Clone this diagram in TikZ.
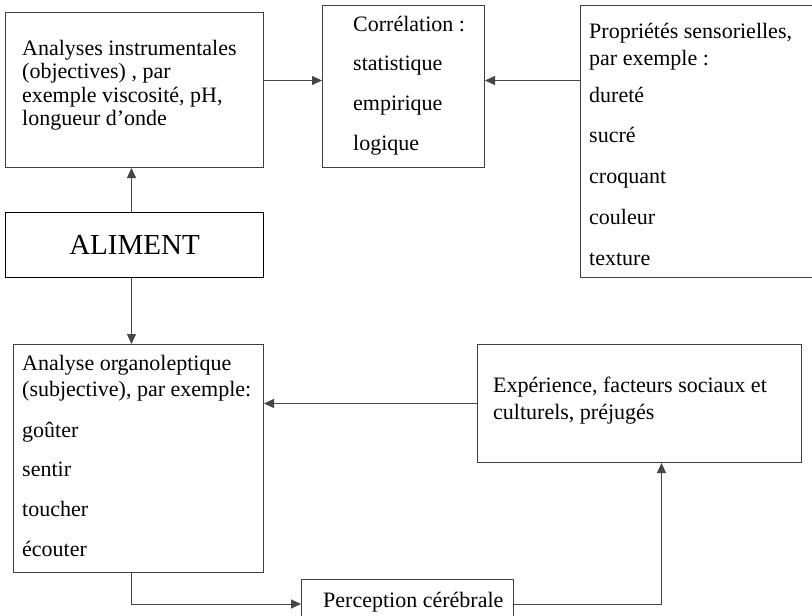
\documentclass[tikz,border=0pt]{standalone}
\usepackage{fontspec}
\setmainfont{Liberation Serif}
\usetikzlibrary{arrows.meta,calc,positioning}

\begin{document}
\begin{tikzpicture}[
  x=1pt,y=-1pt,
  >=Triangle,
  line/.style={draw=black!72,line width=1pt},
  arr/.style={-{Triangle[length=10pt,width=9pt]},draw=black!72,line width=1pt},
  box/.style={rectangle,draw=black!75,line width=1pt,anchor=north west,inner sep=0pt},
  textnode/.style={anchor=base west,inner sep=0pt,font=\fontsize{22}{26}\selectfont,black},
  bigtext/.style={font=\fontsize{29}{34}\selectfont,black}
]
\useasboundingbox (0,0) rectangle (812,616);

% ---------------- geometry (pixels of the page) ----------------
\def\xLeft{22}
\def\xCorr{353}
\def\xProp{589}
\def\xExp{493}

% ---------------- boxes ----------------
\node[box,minimum width=258pt,minimum height=155pt] (instr) at (5,12) {};
\node[box,minimum width=162pt,minimum height=162pt] (corr) at (322,5) {};
\node[box,minimum width=236pt,minimum height=272pt] (prop) at (580,5) {};
\node[box,bigtext,minimum width=258pt,minimum height=65pt] (aliment) at (5,212) {ALIMENT};
\node[box,minimum width=250pt,minimum height=228pt] (organo) at (13,344) {};
\node[box,minimum width=324pt,minimum height=118pt] (exper) at (477,344) {};
\node[box,minimum width=212pt,minimum height=49pt] (percep) at (301,579) {};

% ---------------- texts ----------------
\foreach \t [count=\i from 0] in {Analyses instrumentales,{(objectives) , par},{exemple viscosité, pH,},longueur d'onde}
  \node[textnode] (instr-\i) at (\xLeft,55+23.5*\i) {\t};

\foreach \t [count=\i from 0] in {Corrélation :,statistique,empirique,logique}
  \node[textnode] (corr-\i) at (\xCorr,31+39.7*\i) {\t};

\node[textnode] (prop-a) at (\xProp,38) {Propriétés sensorielles,};
\node[textnode] (prop-b) at (\xProp,65) {par exemple :};
\foreach \t [count=\i from 0] in {dureté,sucré,croquant,couleur,texture}
  \node[textnode] (prop-\i) at (\xProp,102+40.75*\i) {\t};

\node[textnode] (organo-a) at (\xLeft,370) {Analyse organoleptique};
\node[textnode] (organo-b) at (\xLeft,396) {(subjective), par exemple:};
\foreach \t [count=\i from 0] in {goûter,sentir,toucher,écouter}
  \node[textnode] (organo-\i) at (\xLeft,437+39.7*\i) {\t};

\node[textnode] (exper-a) at (\xExp,392) {Expérience, facteurs sociaux et};
\node[textnode] (exper-b) at (\xExp,419) {culturels, préjugés};

\node[textnode] (percep-t) at (323,607) {Perception cérébrale};

% ---------------- connectors ----------------
\coordinate (c1) at ([yshift=9.5pt]instr.east);
\coordinate (c2) at ([xshift=-3pt]aliment.south);
\coordinate (c3) at ([xshift=22pt]exper.south);

\draw[arr] ([xshift=-3pt]aliment.north) -- ([xshift=-3pt]instr.south);
\draw[arr] (c1) -- (c1 -| corr.west);
\draw[arr] (prop.west |- c1) -- (c1 -| corr.east);
\draw[arr] (c2) -- (c2 |- organo.north);
\draw[arr] (exper.west) -- (exper.west -| organo.east);
\draw[arr] (c2 |- organo.south) |- (percep.west);
\draw[arr] (percep.east) -| (c3);

\end{tikzpicture}
\end{document}
